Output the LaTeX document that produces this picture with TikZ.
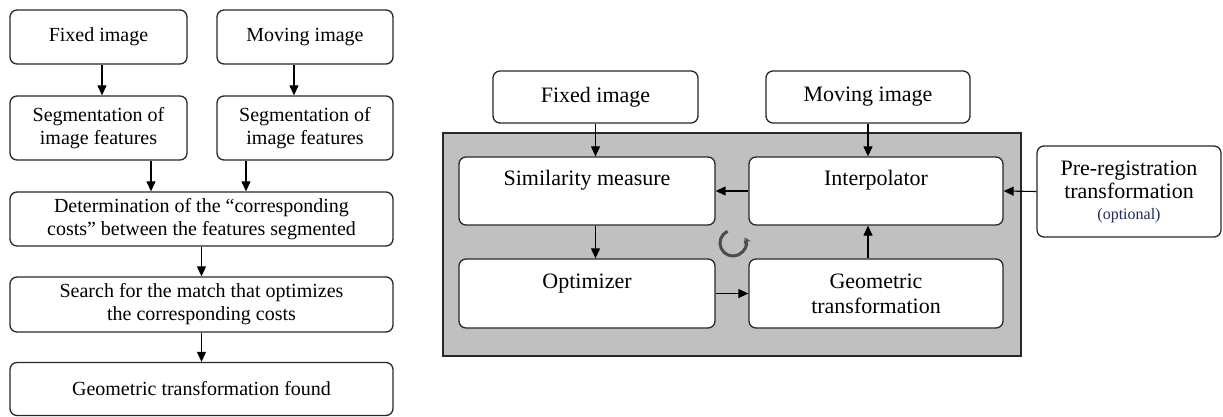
\documentclass[tikz,border=0pt]{standalone}
\usepackage{fontspec}
\setmainfont{Liberation Serif}
\usetikzlibrary{arrows.meta,calc}
\definecolor{panelgray}{RGB}{192,192,192}
\definecolor{edgecol}{RGB}{40,40,40}
\definecolor{optcol}{RGB}{30,40,90}
\tikzset{
  box/.style={draw=edgecol, line width=1.3pt, rounded corners=7pt, fill=white, inner sep=0pt, align=center},
  lbox/.style={box, font=\fontsize{20}{23}\selectfont},
  rbox/.style={box, font=\fontsize{22}{25}\selectfont},
  arr/.style={draw=black, line width=1.1pt, -{Triangle[length=10pt,width=9pt]}},
}
\begin{document}
\begin{tikzpicture}[x=1pt,y=-1pt]
\useasboundingbox (0,0) rectangle (1223,417);
% ---------- left flowchart ----------
\node[lbox, minimum width=177, minimum height=54] (lf) at (98.5,37) {Fixed image};
\node[lbox, minimum width=176, minimum height=54] (lm) at (305,37) {Moving image};
\node[lbox, minimum width=177, minimum height=64] (ls1) at (98.5,128) {Segmentation of\\image features};
\node[lbox, minimum width=176, minimum height=64] (ls2) at (305,128) {Segmentation of\\image features};
\node[lbox, minimum width=383, minimum height=54] (det) at (201.5,219) {Determination of the ``corresponding\\costs'' between the features segmented};
\node[lbox, minimum width=383, minimum height=55] (srch) at (201.5,304.5) {Search for the match that optimizes\\the corresponding costs};
\node[lbox, minimum width=383, minimum height=53] (found) at (201.5,389) {Geometric transformation found};
\draw[arr] ([xshift=3.5]lf.south) -- ([xshift=3.5]lf.south |- ls1.north);
\draw[arr] ([xshift=-11]lm.south) -- ([xshift=-11]lm.south |- ls2.north);
\draw[arr] ([xshift=52.5]ls1.south) -- ([xshift=52.5]ls1.south |- det.north);
\draw[arr] ([xshift=-59]ls2.south) -- ([xshift=-59]ls2.south |- det.north);
\draw[arr] (det.south) -- (srch.north);
\draw[arr] (srch.south) -- (found.north);
% ---------- right diagram ----------
\node[draw=edgecol, line width=1.5pt, fill=panelgray, minimum width=578, minimum height=223, inner sep=0pt] (panel) at (732,244.5) {};
\node[rbox, minimum width=205, minimum height=52] (rf) at (595.5,97) {Fixed image};
\node[rbox, minimum width=204, minimum height=52] (rm) at (868,97) {Moving image};
\node[rbox, minimum width=256, minimum height=68] (sim) at (587,191) {Similarity measure\\[-6pt]\strut};
\node[rbox, minimum width=254, minimum height=68] (interp) at (876,191) {Interpolator\\[-6pt]\strut};
\node[rbox, minimum width=256, minimum height=69] (opt) at (587,293.5) {Optimizer\\[-7pt]\strut};
\node[rbox, minimum width=254, minimum height=69] (geo) at (876,293.5) {Geometric\\transformation};
\node[rbox, minimum width=184, minimum height=91] (pre) at (1129,191.5) {Pre-registration\\[-2pt]transformation\\[-4pt]{\fontsize{16}{18}\selectfont\color{optcol}(optional)}};
\draw[arr] (rf.south) -- (rf.south |- sim.north);
\draw[arr] (rm.south) -- (rm.south |- interp.north);
\draw[arr] (interp.west) -- (sim.east);
\draw[arr] (pre.west) -- (interp.east);
\draw[arr] (rf.south |- sim.south) -- (rf.south |- opt.north);
\draw[arr] (opt.east) -- (geo.west);
\draw[arr] (rm.south |- geo.north) -- (rm.south |- interp.south);
% cycle symbol
\coordinate (cyc) at (733,243);
\draw[line width=3pt, black!70, -{Stealth[open, length=6pt, width=8pt, fill=white, line width=1.2pt]}]
  ($(cyc)+(-115:13)$) arc[start angle=-115, end angle=-385, radius=13];
\end{tikzpicture}
\end{document}
